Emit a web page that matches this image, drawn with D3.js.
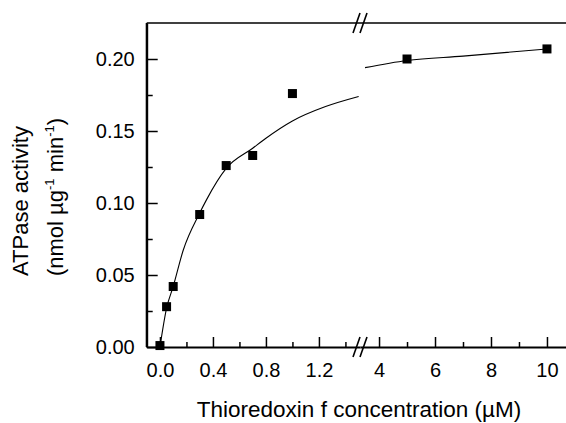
<!DOCTYPE html>
<html>
<head>
<meta charset="utf-8">
<script src="https://cdn.jsdelivr.net/npm/d3@7/dist/d3.min.js"></script>
<style>
  html, body { margin: 0; padding: 0; background: #fff; }
  svg { display: block; }
  text { font-family: "Liberation Sans", Arial, Helvetica, sans-serif; fill: #000; }
</style>
</head>
<body>
<svg id="chart" width="566" height="423"></svg>
<script>
// ---- data ----
const pointX = [0, 0.05, 0.1, 0.3, 0.5, 0.7, 1.0, 5, 10];
const pointY = [0.001, 0.028, 0.042, 0.092, 0.126, 0.133, 0.176, 0.200, 0.207];

// fitted curve, split at the axis break
const curveLeftX  = [0, 0.05, 0.1, 0.175, 0.3, 0.35, 0.5, 0.7, 0.8, 1.0, 1.25, 1.5];
const curveLeftY  = [0, 0.027, 0.042, 0.067, 0.093, 0.102, 0.124, 0.138, 0.145, 0.157, 0.167, 0.174];
const curveRightX = [3.5, 5, 7, 10];
const curveRightY = [0.194, 0.199, 0.202, 0.207];

const xTicksLeft  = [0, 0.4, 0.8, 1.2];
const xMinorLeft  = [0.2, 0.6, 1.0, 1.4];
const xTicksRight = [4, 6, 8, 10];
const xMinorRight = [5, 7, 9];
const yTicks = [0, 0.05, 0.10, 0.15, 0.20];
const yMinor = [0.025, 0.075, 0.125, 0.175];

(function () {
// ---- layout ----
const svg = d3.select("#chart");
const pLeft = 146.7, pRight = 566, pTop = 23, pBottom = 347, breakX = 360;

const xL = d3.scaleLinear().domain([-0.1, 1.51]).range([pLeft, breakX]);
const xR = d3.scaleLinear().domain([3.32, 10.68]).range([breakX, pRight]);
const y  = d3.scaleLinear().domain([0, 0.225]).range([pBottom, pTop]);
const xAny = v => v <= 1.6 ? xL(v) : xR(v);

function styleAxis(g, fs) {
  g.attr("font-family", null).attr("font-size", null);
  g.selectAll("text").style("font-size", fs + "px");
  g.select(".domain").attr("stroke-width", 2);
  g.selectAll(".tick line").attr("stroke-width", 1.5);
}

// x axis left segment
const gxl = svg.append("g").attr("transform", `translate(0,${pBottom})`)
  .call(d3.axisBottom(xL).tickValues(xTicksLeft).tickFormat(d3.format(".1f"))
        .tickSize(-10).tickSizeOuter(0).tickPadding(16));
styleAxis(gxl, 20);
svg.append("g").attr("transform", `translate(0,${pBottom})`)
  .call(d3.axisBottom(xL).tickValues(xMinorLeft).tickFormat("").tickSize(-5).tickSizeOuter(0))
  .call(g => { g.select(".domain").remove(); g.selectAll("line").attr("stroke-width", 1.5); });

// x axis right segment
const gxr = svg.append("g").attr("transform", `translate(0,${pBottom})`)
  .call(d3.axisBottom(xR).tickValues(xTicksRight).tickFormat(d3.format("d"))
        .tickSize(-10).tickSizeOuter(0).tickPadding(16));
styleAxis(gxr, 20);
svg.append("g").attr("transform", `translate(0,${pBottom})`)
  .call(d3.axisBottom(xR).tickValues(xMinorRight).tickFormat("").tickSize(-5).tickSizeOuter(0))
  .call(g => { g.select(".domain").remove(); g.selectAll("line").attr("stroke-width", 1.5); });

// y axis
const gy = svg.append("g").attr("transform", `translate(${pLeft},0)`)
  .call(d3.axisLeft(y).tickValues(yTicks).tickFormat(d3.format(".2f"))
        .tickSize(-11).tickSizeOuter(0).tickPadding(12));
styleAxis(gy, 20);
gy.selectAll("text").attr("dy", "0.3em");
svg.append("g").attr("transform", `translate(${pLeft},0)`)
  .call(d3.axisLeft(y).tickValues(yMinor).tickFormat("").tickSize(-6).tickSizeOuter(0))
  .call(g => { g.select(".domain").remove(); g.selectAll("line").attr("stroke-width", 1.5); });

// top frame line
svg.append("line")
  .attr("x1", pLeft).attr("x2", pRight).attr("y1", y(0.225)).attr("y2", y(0.225))
  .attr("stroke", "#000").attr("stroke-width", 1.6);
svg.append("line")
  .attr("x1", pLeft).attr("x2", pLeft).attr("y1", y(0.225)).attr("y2", pBottom)
  .attr("stroke", "#000").attr("stroke-width", 2);

// break marks "//"
[y(0.225), pBottom].forEach(yy => {
  [-3.5, 3.5].forEach(off => {
    svg.append("line")
      .attr("x1", breakX + off - 3.5).attr("y1", yy + 10)
      .attr("x2", breakX + off + 3.5).attr("y2", yy - 10)
      .attr("stroke", "#000").attr("stroke-width", 1.6);
  });
});

// curve
const line = d3.line().curve(d3.curveMonotoneX);
svg.append("path")
  .attr("d", line(curveLeftX.map((v, i) => [xL(v), y(curveLeftY[i])])))
  .attr("fill", "none").attr("stroke", "#000").attr("stroke-width", 1.1);
svg.append("path")
  .attr("d", line(curveRightX.map((v, i) => [xR(v), y(curveRightY[i])])))
  .attr("fill", "none").attr("stroke", "#000").attr("stroke-width", 1.1);

// points
const sz = 9;
svg.append("g").selectAll("rect")
  .data(pointX.map((v, i) => [v, pointY[i]]))
  .join("rect")
  .attr("x", d => xAny(d[0]) - sz / 2)
  .attr("y", d => y(d[1]) - sz / 2)
  .attr("width", sz).attr("height", sz)
  .attr("fill", "#000");

// axis titles
svg.append("text")
  .attr("x", 359).attr("y", 417)
  .attr("text-anchor", "middle").style("font-size", "22.5px")
  .text("Thioredoxin f concentration (\u00B5M)");

svg.append("text")
  .attr("transform", "translate(28,201) rotate(-90)")
  .attr("text-anchor", "middle").style("font-size", "22px")
  .text("ATPase activity");

const t2 = svg.append("text")
  .attr("transform", "translate(63,197) rotate(-90)")
  .attr("text-anchor", "middle").style("font-size", "22px");
t2.append("tspan").text("(nmol \u00B5g");
t2.append("tspan").attr("dy", -9).style("font-size", "13px").text("-1");
t2.append("tspan").attr("dy", 9).text(" min");
t2.append("tspan").attr("dy", -9).style("font-size", "13px").text("-1");
t2.append("tspan").attr("dy", 9).text(")");
})();
</script>
</body>
</html>
